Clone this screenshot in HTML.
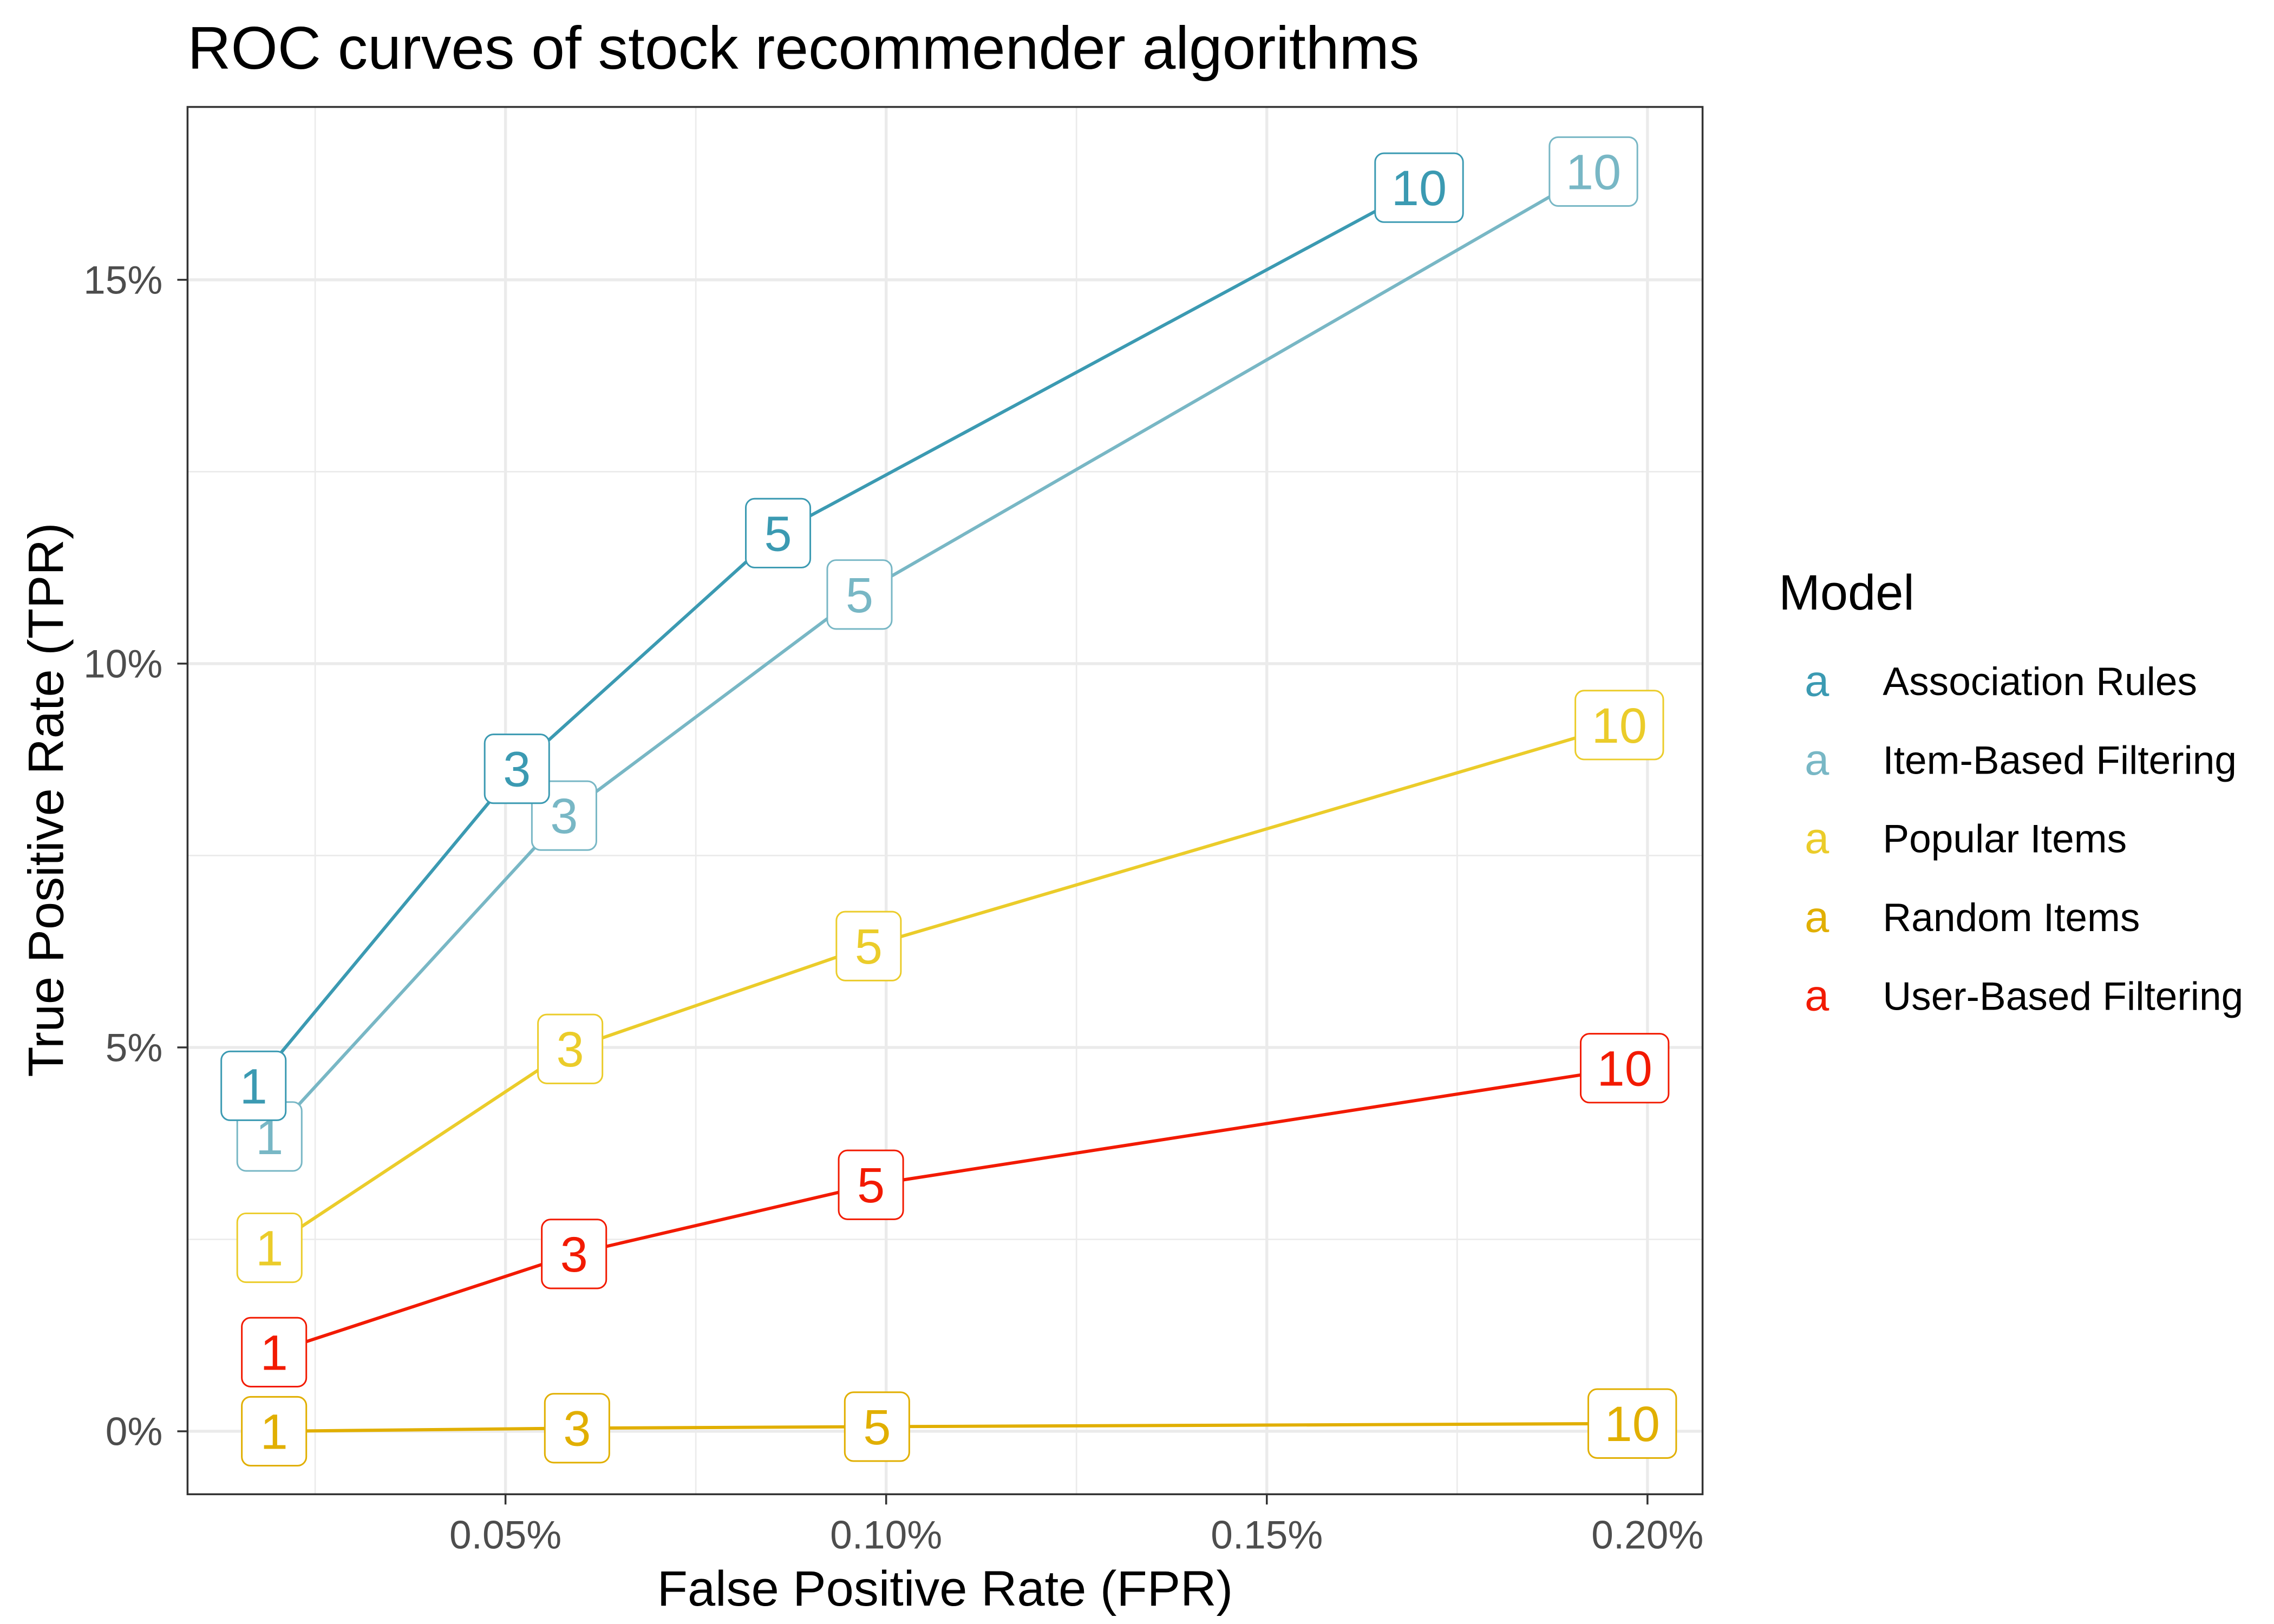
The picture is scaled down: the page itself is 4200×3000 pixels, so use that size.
<!DOCTYPE html>
<html><head><meta charset="utf-8"><style>
html,body{margin:0;padding:0;background:#fff;}
svg{display:block;font-family:"Liberation Sans",Arial,sans-serif;}
</style></head><body>
<svg id="chart" width="4200" height="3000" viewBox="0 0 1552 1108.57" preserveAspectRatio="none" xmlns="http://www.w3.org/2000/svg">
<rect x="0" y="0" width="1552" height="1108.57" fill="#fff"/>
<text x="128" y="47" font-size="41" fill="#000">ROC curves of stock recommender algorithms</text>
<g id="grid"></g>
<g id="series"></g>
<rect x="128" y="73" width="1034" height="947" fill="none" stroke="#333" stroke-width="1.3"/>
<g id="axes"></g>
<text x="645" y="1096" font-size="34" text-anchor="middle" fill="#000">False Positive Rate (FPR)</text>
<text transform="translate(43,546) rotate(-90)" font-size="34" text-anchor="middle" fill="#000">True Positive Rate (TPR)</text>
<text x="1214" y="416" font-size="34" fill="#000">Model</text>
<g id="legend"></g>
</svg>
<script>
const models = ["Association Rules","Item-Based Filtering","Popular Items","Random Items","User-Based Filtering"];
const colors = ["#3B9AB2","#78B7C5","#EBCC2A","#E1AF00","#F21A00"];
const nLabels = ["1","3","5","10"];
const fprAssoc = [0.0169,0.0515,0.0858,0.170];
const tprAssoc = [4.50,8.63,11.70,16.20];
const fprItem = [0.0190,0.0577,0.0965,0.1929];
const tprItem = [3.84,8.02,10.90,16.41];
const fprPop = [0.0190,0.0585,0.0977,0.1963];
const tprPop = [2.39,4.98,6.32,9.20];
const fprRand = [0.0196,0.0594,0.0988,0.1980];
const tprRand = [0.00,0.04,0.06,0.10];
const fprUser = [0.0196,0.0590,0.0980,0.1970];
const tprUser = [1.03,2.31,3.21,4.73];
const xTicks = [0.05,0.10,0.15,0.20];
const xTickLabels = ["0.05%","0.10%","0.15%","0.20%"];
const yTicks = [0,5,10,15];
const yTickLabels = ["0%","5%","10%","15%"];

const NS = "http://www.w3.org/2000/svg";
const X = v => 345 + (v - 0.05) * 5196;
const Y = v => 977 - v * 52.4;
function mk(tag, attrs, parent){ const e=document.createElementNS(NS,tag); for(const k in attrs) e.setAttribute(k,attrs[k]); parent.appendChild(e); return e; }

const grid = document.getElementById('grid');
[0.025,0.075,0.125,0.175].forEach(v=>{
  const l=mk('line',{x1:X(v),x2:X(v),y1:73,y2:1020,stroke:'#EBEBEB','stroke-width':1},grid);
  
  
});
[2.5,7.5,12.5].forEach(v=>{
  const l=mk('line',{x1:128,x2:1162,y1:Y(v),y2:Y(v),stroke:'#EBEBEB','stroke-width':1},grid);
  
  
});
xTicks.forEach(v=>{
  const l=mk('line',{x1:X(v),x2:X(v),y1:73,y2:1020,stroke:'#EBEBEB','stroke-width':2},grid);
  
  
});
yTicks.forEach(v=>{
  const l=mk('line',{x1:128,x2:1162,y1:Y(v),y2:Y(v),stroke:'#EBEBEB','stroke-width':2},grid);
  
  
});

const axes = document.getElementById('axes');
xTicks.forEach((v,i)=>{
  const t=mk('line',{x1:X(v),x2:X(v),y1:1020,y2:1027,stroke:'#333','stroke-width':1.3},axes);
  
  
  const tx=mk('text',{x:X(v),y:1057,'font-size':27,'text-anchor':'middle',fill:'#4D4D4D'},axes);
  tx.textContent=xTickLabels[i];
  
  
});
yTicks.forEach((v,i)=>{
  const t=mk('line',{x1:121,x2:128,y1:Y(v),y2:Y(v),stroke:'#333','stroke-width':1.3},axes);
  
  
  const tx=mk('text',{x:111,y:Y(v)+9.5,'font-size':27,'text-anchor':'end',fill:'#4D4D4D'},axes);
  tx.textContent=yTickLabels[i];
  
  
});

const fprs=[fprAssoc,fprItem,fprPop,fprRand,fprUser];
const tprs=[tprAssoc,tprItem,tprPop,tprRand,tprUser];
const keys=['association-rules','item-based-filtering','popular-items','random-items','user-based-filtering'];
const sl = document.getElementById('series');
for(let s=4;s>=0;s--){
  const g=mk('g',{},sl);
  
  
  const pts=fprs[s].map((f,i)=>X(f)+','+Y(tprs[s][i])).join(' ');
  const pl=mk('polyline',{points:pts,fill:'none',stroke:colors[s],'stroke-width':2.2},g);
  
  
  fprs[s].forEach((f,i)=>{
    const cx=X(f), cy=Y(tprs[s][i]);
    const w = nLabels[i].length>1 ? 60 : 44;
    const lg=mk('g',{},g);
    
    
    mk('rect',{x:cx-w/2,y:cy-23.5,width:w,height:47,rx:6,ry:6,fill:'#fff',stroke:colors[s],'stroke-width':1.1},lg);
    const t=mk('text',{x:cx,y:cy+12,'font-size':34,'text-anchor':'middle',fill:colors[s]},lg);
    t.textContent=nLabels[i];
  });
}

const lgd=document.getElementById('legend');
models.forEach((m,i)=>{
  const y=465+i*53.7;
  const g=mk('g',{},lgd);
  
  
  const k=mk('text',{x:1240,y:y+10,'font-size':30,'text-anchor':'middle',fill:colors[i]},g);
  k.textContent='a';
  const t=mk('text',{x:1285,y:y+9.5,'font-size':27,fill:'#000'},g);
  t.textContent=m;
});
</script>
</body></html>
